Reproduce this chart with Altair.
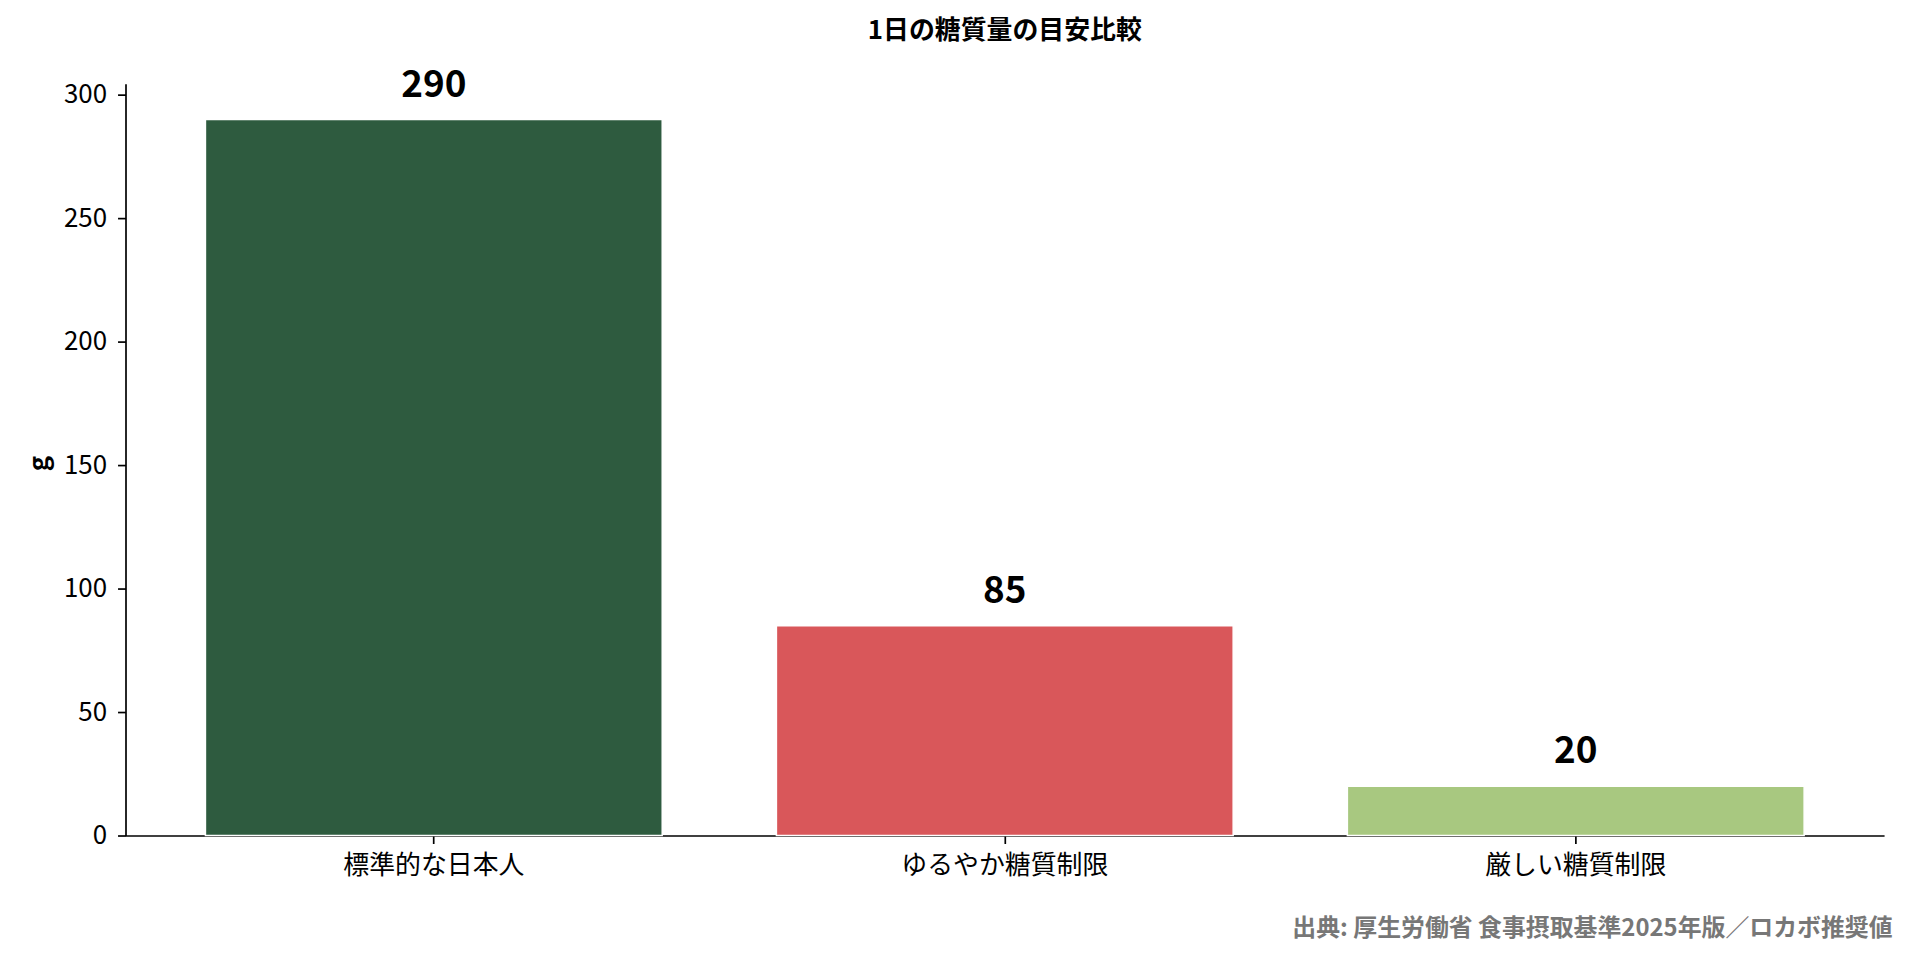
import altair as alt
import pandas as pd

categories = ["標準的な日本人", "ゆるやか糖質制限", "厳しい糖質制限"]
values = [290, 85, 20]
colors = ["#2E5B3F", "#D9575A", "#A8C880"]
title_text = "1日の糖質量の目安比較"
y_label = "g"
source_text = "出典: 厚生労働省 食事摂取基準2025年版／ロカボ推奨値"
y_ticks = [0, 50, 100, 150, 200, 250, 300]

FONT = "Noto Sans CJK JP"

df = pd.DataFrame({"category": categories, "value": values, "color": colors})

x_enc = alt.X(
    "category:N",
    sort=categories,
    scale=alt.Scale(paddingInner=0.2, paddingOuter=0.14),
    axis=alt.Axis(
        title=source_text,
        labelAngle=0,
        labelFontSize=26,
        labelColor="black",
        labelPadding=9,
        labelLimit=0,
        tickSize=8,
        tickWidth=1.7,
        tickColor="black",
        domainColor="black",
        domainWidth=1.7,
        titleX=1774,
        titleY=93,
        titleAlign="right",
        titleBaseline="middle",
        titleColor="#777777",
        titleFontSize=24,
        titleFontWeight="bold",
    ),
)

y_enc = alt.Y(
    "value:Q",
    scale=alt.Scale(domain=[0, 304.5], nice=False, zero=True),
    axis=alt.Axis(
        title=y_label,
        values=y_ticks,
        grid=False,
        labelFontSize=26,
        labelColor="black",
        labelPadding=11,
        tickSize=8,
        tickWidth=1.7,
        tickColor="black",
        domainColor="black",
        domainWidth=1.7,
        titleX=-86,
        titleY=381,
        titleAngle=270,
        titleAlign="center",
        titleBaseline="middle",
        titleFontSize=26,
        titleFontWeight="bold",
        titleColor="black",
    ),
)

bars = alt.Chart(df).mark_bar(stroke="white", strokeWidth=1.5).encode(
    x=x_enc,
    y=y_enc,
    color=alt.Color("color:N", scale=None),
)

labels = alt.Chart(df).mark_text(
    baseline="alphabetic", dy=-23, fontSize=37, fontWeight="bold", font=FONT, color="black"
).encode(
    x=alt.X("category:N", sort=categories),
    y=alt.Y("value:Q"),
    text=alt.Text("value:Q"),
)

chart = (
    alt.layer(bars, labels)
    .properties(
        width=1766,
        height=755,
        title=alt.TitleParams(
            title_text,
            fontSize=26,
            fontWeight="bold",
            font=FONT,
            anchor="middle",
            color="black",
            offset=23,
        ),
        autosize=alt.AutoSizeParams(type="none"),
        padding={"left": 118, "top": 74, "right": 18, "bottom": 122},
    )
    .configure_view(stroke=None)
    .configure_axis(labelFont=FONT, titleFont=FONT)
)

chart.save("out.html", embed_options={"renderer": "svg", "actions": False})
